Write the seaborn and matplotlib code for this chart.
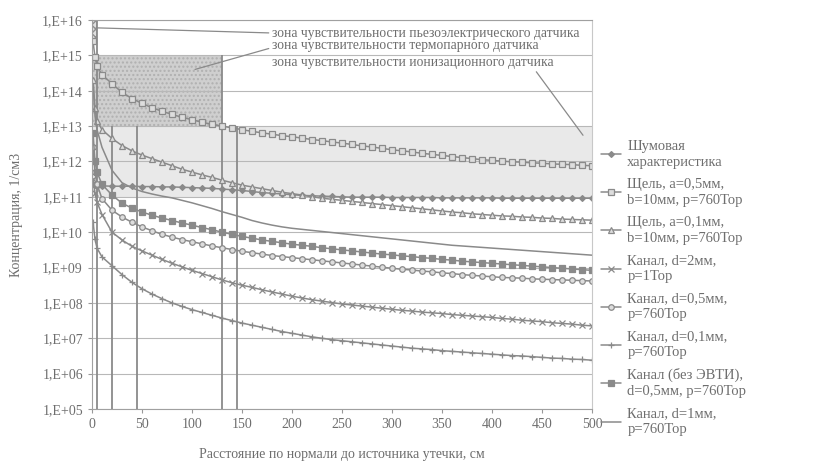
import matplotlib
matplotlib.use('Agg')
import matplotlib.pyplot as plt
import matplotlib.ticker as mticker
import numpy as np
import seaborn as sns

sns.set_style('white')
plt.rcParams['font.family'] = ['Liberation Serif', 'DejaVu Serif']

# расстояние, см
dist = [1, 3, 5] + list(range(10, 501, 10))

# lg(концентрации)
lg_noise = [11.35, 11.33, 11.32,
            11.31, 11.3, 11.3, 11.3, 11.29, 11.29, 11.28, 11.28, 11.27, 11.26,
            11.25, 11.24, 11.22, 11.2, 11.18, 11.15, 11.12, 11.1, 11.08, 11.06,
            11.04, 11.03, 11.02, 11.01, 11.0, 10.99, 10.99, 10.99, 10.99, 10.98,
            10.98, 10.98, 10.98, 10.98, 10.97, 10.97, 10.97, 10.97, 10.97, 10.97,
            10.96, 10.96, 10.96, 10.96, 10.96, 10.96, 10.96, 10.96, 10.96, 10.96]
lg_slit05 = [15.4, 14.95, 14.7,
             14.45, 14.2, 13.95, 13.78, 13.64, 13.52, 13.42, 13.33, 13.25, 13.18,
             13.11, 13.05, 13.0, 12.95, 12.9, 12.85, 12.81, 12.77, 12.73, 12.7,
             12.66, 12.62, 12.59, 12.55, 12.52, 12.48, 12.44, 12.41, 12.37, 12.33,
             12.3, 12.27, 12.23, 12.2, 12.17, 12.14, 12.11, 12.08, 12.05, 12.03,
             12.01, 11.99, 11.98, 11.96, 11.95, 11.93, 11.92, 11.91, 11.89, 11.88]
lg_slit01 = [14.3, 13.5, 13.15,
             12.9, 12.65, 12.45, 12.3, 12.18, 12.08, 11.98, 11.88, 11.78, 11.7,
             11.62, 11.55, 11.47, 11.4, 11.33, 11.28, 11.23, 11.18, 11.13, 11.09,
             11.05, 11.0, 10.96, 10.93, 10.9, 10.87, 10.84, 10.81, 10.78, 10.75,
             10.72, 10.69, 10.66, 10.63, 10.6, 10.57, 10.55, 10.52, 10.5, 10.48,
             10.46, 10.45, 10.43, 10.42, 10.4, 10.39, 10.37, 10.36, 10.35, 10.34]
lg_ch2_1 = [11.5, 11.1, 10.85,
            10.5, 10.0, 9.78, 9.6, 9.47, 9.35, 9.23, 9.12, 9.02, 8.92,
            8.83, 8.74, 8.65, 8.57, 8.5, 8.44, 8.37, 8.31, 8.25, 8.19,
            8.14, 8.09, 8.05, 8.01, 7.97, 7.94, 7.91, 7.88, 7.85, 7.82,
            7.79, 7.77, 7.74, 7.72, 7.7, 7.67, 7.65, 7.63, 7.61, 7.59,
            7.56, 7.54, 7.51, 7.49, 7.47, 7.44, 7.42, 7.4, 7.37, 7.35]
lg_ch05 = [12.4, 11.7, 11.35,
           10.95, 10.62, 10.43, 10.28, 10.15, 10.04, 9.94, 9.86, 9.79, 9.73,
           9.67, 9.61, 9.56, 9.51, 9.46, 9.42, 9.38, 9.34, 9.31, 9.28,
           9.25, 9.22, 9.19, 9.16, 9.13, 9.1, 9.07, 9.04, 9.01, 8.98,
           8.95, 8.93, 8.9, 8.88, 8.85, 8.83, 8.8, 8.78, 8.76, 8.74,
           8.72, 8.71, 8.7, 8.68, 8.67, 8.66, 8.65, 8.64, 8.63, 8.62]
lg_ch01 = [10.3, 9.8, 9.55,
           9.3, 9.05, 8.8, 8.58, 8.4, 8.25, 8.12, 8.0, 7.9, 7.81,
           7.73, 7.65, 7.57, 7.5, 7.43, 7.37, 7.31, 7.25, 7.19, 7.14,
           7.09, 7.04, 7.0, 6.96, 6.93, 6.9, 6.87, 6.84, 6.81, 6.78,
           6.75, 6.72, 6.7, 6.68, 6.65, 6.63, 6.61, 6.59, 6.57, 6.55,
           6.53, 6.51, 6.5, 6.48, 6.46, 6.44, 6.43, 6.41, 6.4, 6.38]
lg_noevti = [12.8, 12.0, 11.7,
             11.35, 11.05, 10.82, 10.68, 10.57, 10.48, 10.4, 10.33, 10.26, 10.2,
             10.13, 10.07, 10.0, 9.94, 9.88, 9.83, 9.78, 9.74, 9.7, 9.66,
             9.63, 9.6, 9.56, 9.53, 9.5, 9.47, 9.44, 9.41, 9.38, 9.36,
             9.33, 9.31, 9.28, 9.26, 9.23, 9.21, 9.18, 9.16, 9.14, 9.12,
             9.1, 9.08, 9.06, 9.04, 9.02, 9.0, 8.98, 8.96, 8.94, 8.92]
lg_ch1 = [14.2, 13.3, 12.9,
          12.4, 11.75, 11.4, 11.25, 11.15, 11.08, 11.02, 10.97, 10.9, 10.83,
          10.75, 10.67, 10.58, 10.5, 10.42, 10.33, 10.26, 10.2, 10.15, 10.11,
          10.08, 10.05, 10.02, 9.99, 9.96, 9.93, 9.9, 9.87, 9.84, 9.81,
          9.78, 9.75, 9.72, 9.69, 9.66, 9.63, 9.61, 9.59, 9.57, 9.55,
          9.53, 9.51, 9.49, 9.47, 9.45, 9.43, 9.41, 9.39, 9.37, 9.35]

labels = ["Шумовая\nхарактеристика",
          "Щель, a=0,5мм,\nb=10мм, p=760Тор",
          "Щель, a=0,1мм,\nb=10мм, p=760Тор",
          "Канал, d=2мм,\np=1Тор",
          "Канал, d=0,5мм,\np=760Тор",
          "Канал, d=0,1мм,\np=760Тор",
          "Канал (без ЭВТИ),\nd=0,5мм, p=760Тор",
          "Канал, d=1мм,\np=760Тор"]
curves = [lg_noise, lg_slit05, lg_slit01, lg_ch2_1, lg_ch05, lg_ch01, lg_noevti, lg_ch1]
markers = ['D', 's', '^', 'x', 'o', '+', 's', None]
msizes = [3, 4, 4, 4, 4, 5, 4, 0]
open_mk = [False, True, True, False, True, False, False, False]

# зоны чувствительности датчиков: (x0, x1, y0, y1)
zone_piezo = (0, 4, 3e15, 1e16)
zone_thermo = (0, 130, 1e13, 1e15)
zone_ion = (0, 500, 1e11, 1e13)
zone_texts = ["зона чувствительности пьезоэлектрического датчика",
              "зона чувствительности термопарного датчика",
              "зона чувствительности ионизационного датчика"]

# вспомогательные вертикали
guide_x = [5, 20, 45, 130, 145]
guide_top = [1e16, 1e13, 1e13, 1e15, 1e13]

gray = '#8a8a8a'
txt = '#6e6e6e'

fig = plt.figure(figsize=(8.21, 4.65), dpi=100)
ax = fig.add_axes([92 / 821, 56 / 465, 500 / 821, 389 / 465])

ax.fill_between(zone_ion[:2], zone_ion[2], zone_ion[3], color='#e9e9e9', lw=0, zorder=0.2)
ax.fill_between(zone_thermo[:2], zone_thermo[2], zone_thermo[3], facecolor='#cfcfcf',
                edgecolor='#b0b0b0', hatch='....', lw=0, zorder=0.2)
ax.fill_between(zone_piezo[:2], zone_piezo[2], zone_piezo[3], facecolor='#e0e0e0',
                edgecolor='#909090', hatch='xxxx', lw=0.6, zorder=0.2)
ax.vlines(guide_x, 1e5, guide_top, color=gray, lw=1.3, zorder=1.5)

for lab, lg, mk, ms, op in zip(labels, curves, markers, msizes, open_mk):
    conc = 10 ** np.array(lg)
    sns.lineplot(x=dist, y=conc, ax=ax, color=gray, lw=1.1, marker=mk,
                 markersize=ms, markeredgewidth=0.9, markeredgecolor=gray,
                 markerfacecolor='#dddddd' if op else gray, label=lab)

ax.set_yscale('log')
ax.set_xlim(0, 500)
ax.set_ylim(1e5, 1e16)
ax.set_xticks(range(0, 501, 50))
ax.yaxis.set_major_locator(mticker.LogLocator(base=10, numticks=20))
ax.yaxis.set_minor_locator(mticker.NullLocator())
ax.yaxis.set_major_formatter(mticker.FuncFormatter(lambda v, p: '1,E+%02d' % round(np.log10(v))))
ax.set_axisbelow(True)
ax.yaxis.grid(True, color='#b8b8b8', lw=0.8)
ax.tick_params(axis='both', bottom=True, left=True, direction='out', length=3,
               color='#999999', labelcolor=txt, labelsize=10)
for s in ax.spines.values():
    s.set_color('#a0a0a0')
    s.set_linewidth(0.8)
ax.spines['right'].set_color('#c8c8c8')

ax.set_xlabel('Расстояние по нормали до источника утечки, см', color=txt, fontsize=10, labelpad=12)
ax.set_ylabel('Концентрация, 1/см3', color=txt, fontsize=10, labelpad=14)

arrow = dict(arrowstyle='-', color=gray, lw=0.9, shrinkA=0, shrinkB=0)
ax.annotate(zone_texts[0], xy=(zone_piezo[1], 6e15), xytext=(272, 432),
            textcoords='figure pixels', va='center', ha='left', fontsize=9.8, color=txt,
            arrowprops=dict(arrow, relpos=(0, 0.5)))
ax.annotate(zone_texts[1], xy=(103, 4e14), xytext=(272, 420),
            textcoords='figure pixels', va='center', ha='left', fontsize=9.8, color=txt,
            arrowprops=dict(arrow, relpos=(0, 0.3)))
ax.annotate(zone_texts[2], xy=(491, 5.5e12), xytext=(272, 403),
            textcoords='figure pixels', va='center', ha='left', fontsize=9.8, color=txt,
            arrowprops=dict(arrow, relpos=(0.93, 0)))

leg = ax.legend(loc='upper left', bbox_to_anchor=(601 / 821, 1 - 140 / 465),
                bbox_transform=fig.transFigure, frameon=False, fontsize=10.5,
                labelcolor=txt, handlelength=1.4, handletextpad=0.4,
                labelspacing=0.62, borderaxespad=0, borderpad=0)
for t in leg.get_texts():
    t.set_linespacing(1.3)

fig.savefig('out.png', dpi=100)
